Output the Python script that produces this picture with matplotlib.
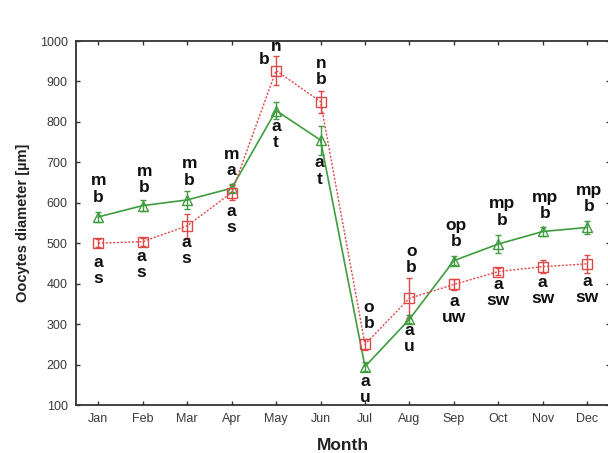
import matplotlib
matplotlib.use("Agg")
import matplotlib.pyplot as plt
import numpy as np

months = ["Jan", "Feb", "Mar", "Apr", "May", "Jun", "Jul", "Aug", "Sep", "Oct", "Nov", "Dec"]
green_mean = [565, 593, 607, 636, 828, 755, 195, 312, 457, 498, 529, 539]
green_err = [12, 13, 22, 10, 22, 36, 12, 10, 12, 23, 10, 15]
red_mean = [500, 504, 543, 625, 927, 850, 250, 364, 398, 430, 442, 449]
red_err = [10, 10, 30, 18, 35, 27, 14, 49, 13, 8, 16, 23]

top_labels = ["m\nb", "m\nb", "m\nb", "m\na", None, "n\nb", "o\nb", "o\nb", "op\nb", "mp\nb", "mp\nb", "mp\nb"]
bottom_labels = ["a\ns", "a\ns", "a\ns", "a\ns", "a\nt", "a\nt", "a\nu", "a\nu", "a\nuw", "a\nsw", "a\nsw", "a\nsw"]
# which series each label group is attached to: 'g' green, 'r' red
top_anchor = ["g", "g", "g", "g", "r", "r", "r", "r", "g", "g", "g", "g"]
bottom_anchor = ["r", "r", "r", "r", "g", "g", "g", "g", "r", "r", "r", "r"]
# offsets in pixels (dx, dy) of label centres from anchor points
top_off = [(0, 28), (2, 26), (2, 28), (0, 26), (0, 0), (1, 30), (4, 29), (2, 39), (2, 27), (4, 32), (2, 26), (2, 29)]
bot_off = [(0, -27), (-1, -23), (-1, -25), (0, -27), (0, -24), (-1, -31), (0, -23), (0, -19), (0, -25), (0, -21), (0, -24), (0, -26)]

GREEN = "#3f9c3f"
RED = "#e04848"

W, H = 608, 453
fig = plt.figure(figsize=(W / 100, H / 100), dpi=100)
fig.patch.set_facecolor("white")
ax = fig.add_axes([76 / W, (H - 405) / H, 533.5 / W, 364 / H])

x = np.arange(len(months))
ax.errorbar(x, green_mean, yerr=green_err, color=GREEN, lw=1.2, marker="^", ms=7,
            mfc="none", mec=GREEN, mew=1.0, elinewidth=1.0, capsize=2, capthick=1.0, zorder=3)
ax.errorbar(x, red_mean, yerr=red_err, color=RED, lw=1.0, ls=(0, (1.5, 1.2)), marker="s", ms=6.5,
            mfc="none", mec=RED, mew=1.0, elinewidth=1.0, capsize=2, capthick=1.0, zorder=3)

font = dict(fontsize=12.5, fontweight="bold", family=["Liberation Sans", "DejaVu Sans"],
            ha="center", va="center", linespacing=1.1, color="#111111")

for i in range(len(months)):
    if top_labels[i] is not None:
        yv = green_mean[i] if top_anchor[i] == "g" else red_mean[i]
        ax.annotate(top_labels[i], xy=(x[i], yv), xytext=top_off[i], textcoords="offset pixels", **font)
    yv = green_mean[i] if bottom_anchor[i] == "g" else red_mean[i]
    ax.annotate(bottom_labels[i], xy=(x[i], yv), xytext=bot_off[i], textcoords="offset pixels", **font)

# May special top labels ("n" above, "b" to the left)
ax.annotate("n", xy=(x[4], red_mean[4]), xytext=(0, 24), textcoords="offset pixels", **font)
ax.annotate("b", xy=(x[4], red_mean[4]), xytext=(-12, 11), textcoords="offset pixels", **font)

ax.set_xlim(-0.5, 11.5)
ax.set_ylim(100, 1000)
ax.set_xticks(x)
ax.set_xticklabels(months)
ax.set_yticks(np.arange(100, 1001, 100))
ax.tick_params(direction="in", length=3, width=1, top=True, right=True, colors="#333333",
               labelcolor="#3a3a3a", labelsize=9, pad=6)
for lab in ax.get_xticklabels() + ax.get_yticklabels():
    lab.set_family(["Liberation Sans", "DejaVu Sans"])
for s in ax.spines.values():
    s.set_color("#333333")
    s.set_linewidth(1.3)

ax.set_ylabel("Oocytes diameter [µm]", fontsize=10.5, fontweight="bold",
              family=["Liberation Sans", "DejaVu Sans"], color="#222222", labelpad=7)
ax.set_xlabel("Month", fontsize=12.5, fontweight="bold",
              family=["Liberation Sans", "DejaVu Sans"], color="#222222", labelpad=9)

fig.savefig("out.png", dpi=100, facecolor="white")
